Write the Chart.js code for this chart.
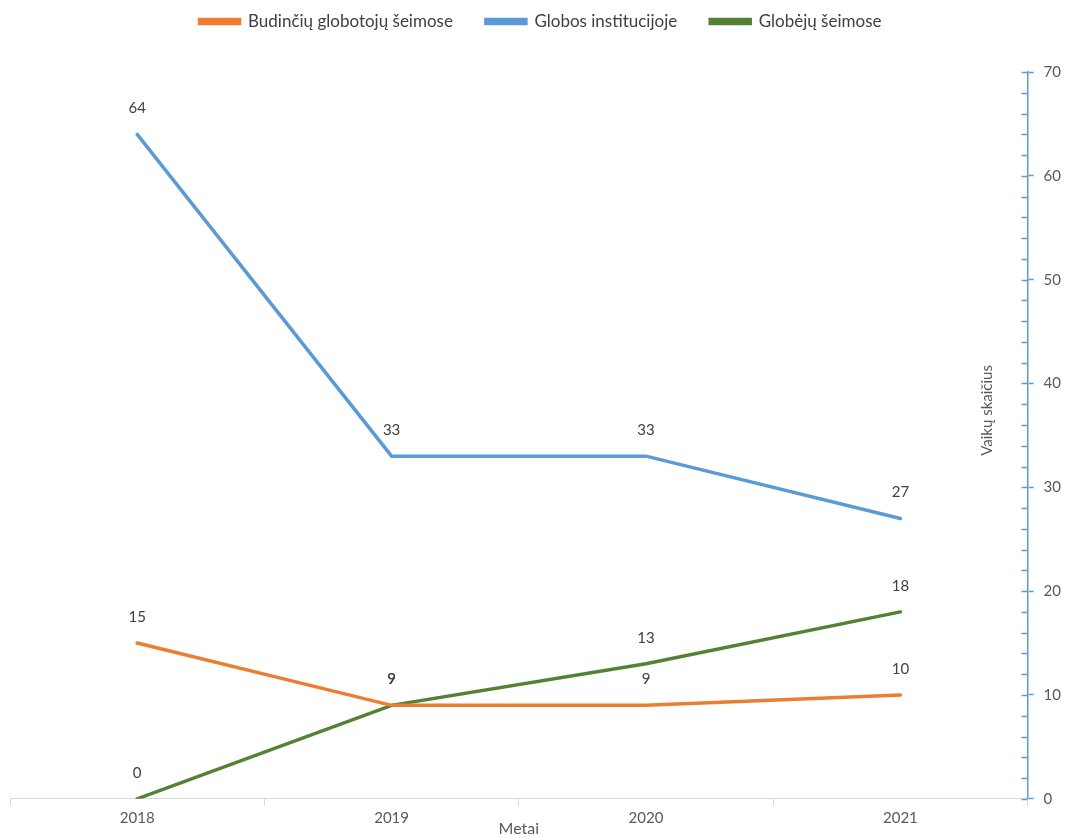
<!DOCTYPE html>
<html>
<head>
<meta charset="utf-8">
<script src="https://cdn.jsdelivr.net/npm/chart.js@4/dist/chart.umd.min.js"></script>
<style>
  html, body { margin: 0; padding: 0; background: #fff; }
  #wrap { width: 1067px; height: 838px; }
</style>
</head>
<body>
<div id="wrap"><canvas id="chart"></canvas></div>
<script>
var years = ['2018', '2019', '2020', '2021'];
var budinciu = [15, 9, 9, 10];
var institucijoje = [64, 33, 33, 27];
var globeju = [0, 9, 13, 18];
var seriesNames = ['Budinčių globotojų šeimose', 'Globos institucijoje', 'Globėjų šeimose'];
var yMin = 0, yMax = 70, yMajor = 10, yMinor = 2;

var FONT = 'Lato, "Open Sans", sans-serif';
var axisBlue = '#5B9BD5';

// value labels above each point
var valueLabels = {
  id: 'valueLabels',
  afterDatasetsDraw: function(chart) {
    var ctx = chart.ctx;
    ctx.save();
    ctx.font = '15px ' + FONT;
    ctx.fillStyle = '#404040';
    ctx.textAlign = 'center';
    ctx.textBaseline = 'middle';
    chart.data.datasets.forEach(function(ds, i) {
      chart.getDatasetMeta(i).data.forEach(function(pt, j) {
        ctx.fillText(String(ds.data[j]), pt.x, pt.y - 26);
      });
    });
    ctx.restore();
  }
};

// make room between legend and plot
var legendSpace = {
  id: 'legendSpace',
  beforeInit: function(chart) {
    var fit = chart.legend.fit;
    chart.legend.fit = function() {
      fit.bind(chart.legend)();
      this.height += 32;
    };
  }
};

// minor ticks on the inner side of the right axis + axis title
var axisExtras = {
  id: 'axisExtras',
  afterDraw: function(chart) {
    var ctx = chart.ctx;
    var y = chart.scales.y;
    var area = chart.chartArea;
    ctx.save();
    ctx.strokeStyle = axisBlue;
    ctx.lineWidth = 1.5;
    y.ticks.forEach(function(t) {
      var py = Math.round(y.getPixelForValue(t.value)) + 0.5;
      ctx.beginPath();
      ctx.moveTo(area.right - 6, py);
      ctx.lineTo(area.right, py);
      ctx.stroke();
    });
    ctx.translate(area.right - 40, (area.top + area.bottom) / 2 - 25);
    ctx.rotate(-Math.PI / 2);
    ctx.font = '15px ' + FONT;
    ctx.fillStyle = '#595959';
    ctx.textAlign = 'center';
    ctx.textBaseline = 'middle';
    ctx.fillText('Vaikų skaičius', 0, 0);
    ctx.restore();
  }
};

function line(label, data, color) {
  return {
    label: label,
    data: data,
    borderColor: color,
    backgroundColor: color,
    borderWidth: 3.5,
    tension: 0,
    pointRadius: 0,
    pointHoverRadius: 0,
    borderCapStyle: 'round',
    fill: false
  };
}

new Chart(document.getElementById('chart').getContext('2d'), {
  type: 'line',
  data: {
    labels: years,
    datasets: [
      line(seriesNames[0], budinciu, '#ED7D31'),
      line(seriesNames[1], institucijoje, '#5B9BD5'),
      line(seriesNames[2], globeju, '#548235')
    ]
  },
  options: {
    responsive: true,
    maintainAspectRatio: false,
    animation: false,
    layout: { padding: { left: 10, right: -4, top: -20, bottom: 0 } },
    plugins: {
      tooltip: { enabled: false },
      legend: {
        position: 'top',
        align: 'center',
        labels: {
          boxWidth: 40,
          boxHeight: 4,
          padding: 33,
          color: '#404040',
          font: { family: FONT, size: 17 }
        }
      }
    },
    scales: {
      x: {
        offset: true,
        grid: {
          offset: true,
          drawOnChartArea: false,
          drawTicks: true,
          tickLength: 7,
          color: '#d9d9d9'
        },
        border: { color: '#d9d9d9', width: 1 },
        ticks: {
          color: '#595959',
          font: { family: FONT, size: 15 },
          padding: 3,
          maxRotation: 0
        },
        title: {
          display: true,
          text: 'Metai',
          color: '#595959',
          font: { family: FONT, size: 16 },
          padding: { top: -11, bottom: 0 }
        }
      },
      y: {
        position: 'right',
        min: yMin,
        max: yMax,
        grid: {
          drawOnChartArea: false,
          drawTicks: true,
          tickLength: 6,
          tickWidth: 1.5,
          tickColor: function(c) { return c.tick && c.tick.value % yMajor === 0 ? axisBlue : 'rgba(0,0,0,0)'; }
        },
        border: { color: axisBlue, width: 1.5 },
        ticks: {
          stepSize: yMinor,
          autoSkip: false,
          color: '#595959',
          font: { family: FONT, size: 15 },
          padding: 10,
          callback: function(v) { return v % yMajor === 0 ? v : ''; }
        }
      }
    }
  },
  plugins: [valueLabels, axisExtras, legendSpace]
});
</script>
</body>
</html>
